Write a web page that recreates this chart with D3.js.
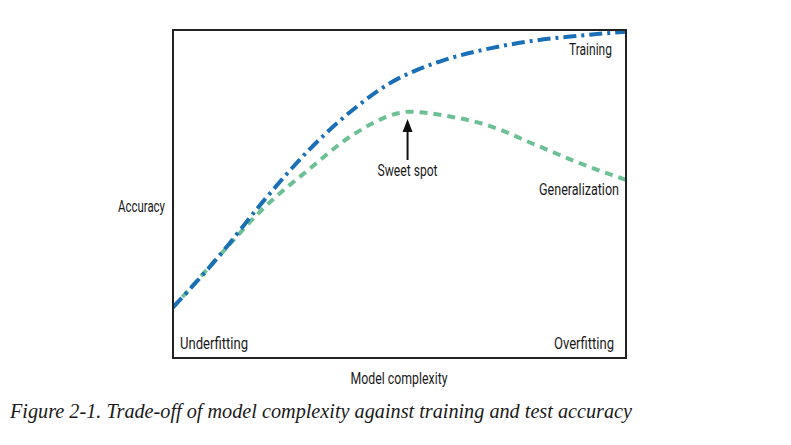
<!DOCTYPE html>
<html><head><meta charset="utf-8">
<script src="https://cdn.jsdelivr.net/npm/d3@7"></script>
<style>
html,body{margin:0;padding:0;background:#fff;}
svg{display:block;}
.lbl{font-family:Roboto,"DejaVu Sans Condensed",sans-serif;font-size:16px;fill:#1a1a1a;}
.cap{font-family:"Liberation Serif","DejaVu Serif",serif;font-style:italic;font-size:20px;fill:#1a1a1a;}
</style></head>
<body>
<svg id="c" width="791" height="445"></svg>
<script>
const complexity = [0, 1, 2, 3, 4, 5, 5.2, 6, 7, 8, 9, 10];
const training = [15.4, 30.8, 47.9, 63.4, 76.0, 85.4, 86.7, 90.9, 94.4, 96.8, 98.3, 99.5];
const generalization = [15.4, 30.8, 45.7, 57.5, 68.3, 74.7, 75.1, 73.9, 70.7, 65.0, 59.3, 54.3];
const seriesNames = ["Training", "Generalization"];
const sweetSpot = {x: 5.2, label: "Sweet spot"};

const svg = d3.select("#c");
const L = 173, R = 626, T = 30, B = 358;
const x = d3.scaleLinear().domain([0, 10]).range([L, R]);
const y = d3.scaleLinear().domain([0, 100]).range([B, T]);

svg.append("defs").append("clipPath").attr("id", "clip")
  .append("rect").attr("x", L).attr("y", T).attr("width", R - L).attr("height", B - T);

const g = svg.append("g").attr("clip-path", "url(#clip)");
const line = d3.line().x((d, i) => x(complexity[i])).y(d => y(d)).curve(d3.curveMonotoneX);

g.append("path").datum(generalization).attr("d", line)
  .attr("fill", "none").attr("stroke", "#6dbf95").attr("stroke-width", 4)
  .attr("stroke-dasharray", "8,6");
g.append("path").datum(training).attr("d", line)
  .attr("fill", "none").attr("stroke", "#1b6fb6").attr("stroke-width", 4)
  .attr("stroke-dasharray", "13,5,3,5");

svg.append("rect").attr("x", L).attr("y", T).attr("width", R - L).attr("height", B - T)
  .attr("fill", "none").attr("stroke", "#222").attr("stroke-width", 2);

// arrow
const ax = x(sweetSpot.x) - 1;
svg.append("line").attr("x1", ax).attr("x2", ax).attr("y1", 160).attr("y2", 128)
  .attr("stroke", "#111").attr("stroke-width", 2);
svg.append("path").attr("d", `M${ax},119 L${ax-5},132 L${ax+5},132 Z`).attr("fill", "#111");

function label(txt, xx, yy, anchor, w) {
  svg.append("text").attr("class", "lbl").attr("x", xx).attr("y", yy)
    .attr("text-anchor", anchor).attr("textLength", w).attr("lengthAdjust", "spacingAndGlyphs").text(txt);
}
label(sweetSpot.label, ax, 176, "middle", 60);
label(seriesNames[0], 612, 55, "end", 43);
label(seriesNames[1], 619, 195, "end", 80);
label("Underfitting", 180, 349, "start", 68);
label("Overfitting", 614, 349, "end", 60);
label("Accuracy", 165, 212, "end", 47);
label("Model complexity", 399, 384, "middle", 97);
svg.append("text").attr("class", "cap").attr("x", 10).attr("y", 418)
  .attr("textLength", 622).attr("lengthAdjust", "spacingAndGlyphs")
  .text("Figure 2-1. Trade-off of model complexity against training and test accuracy");
</script>
</body></html>
